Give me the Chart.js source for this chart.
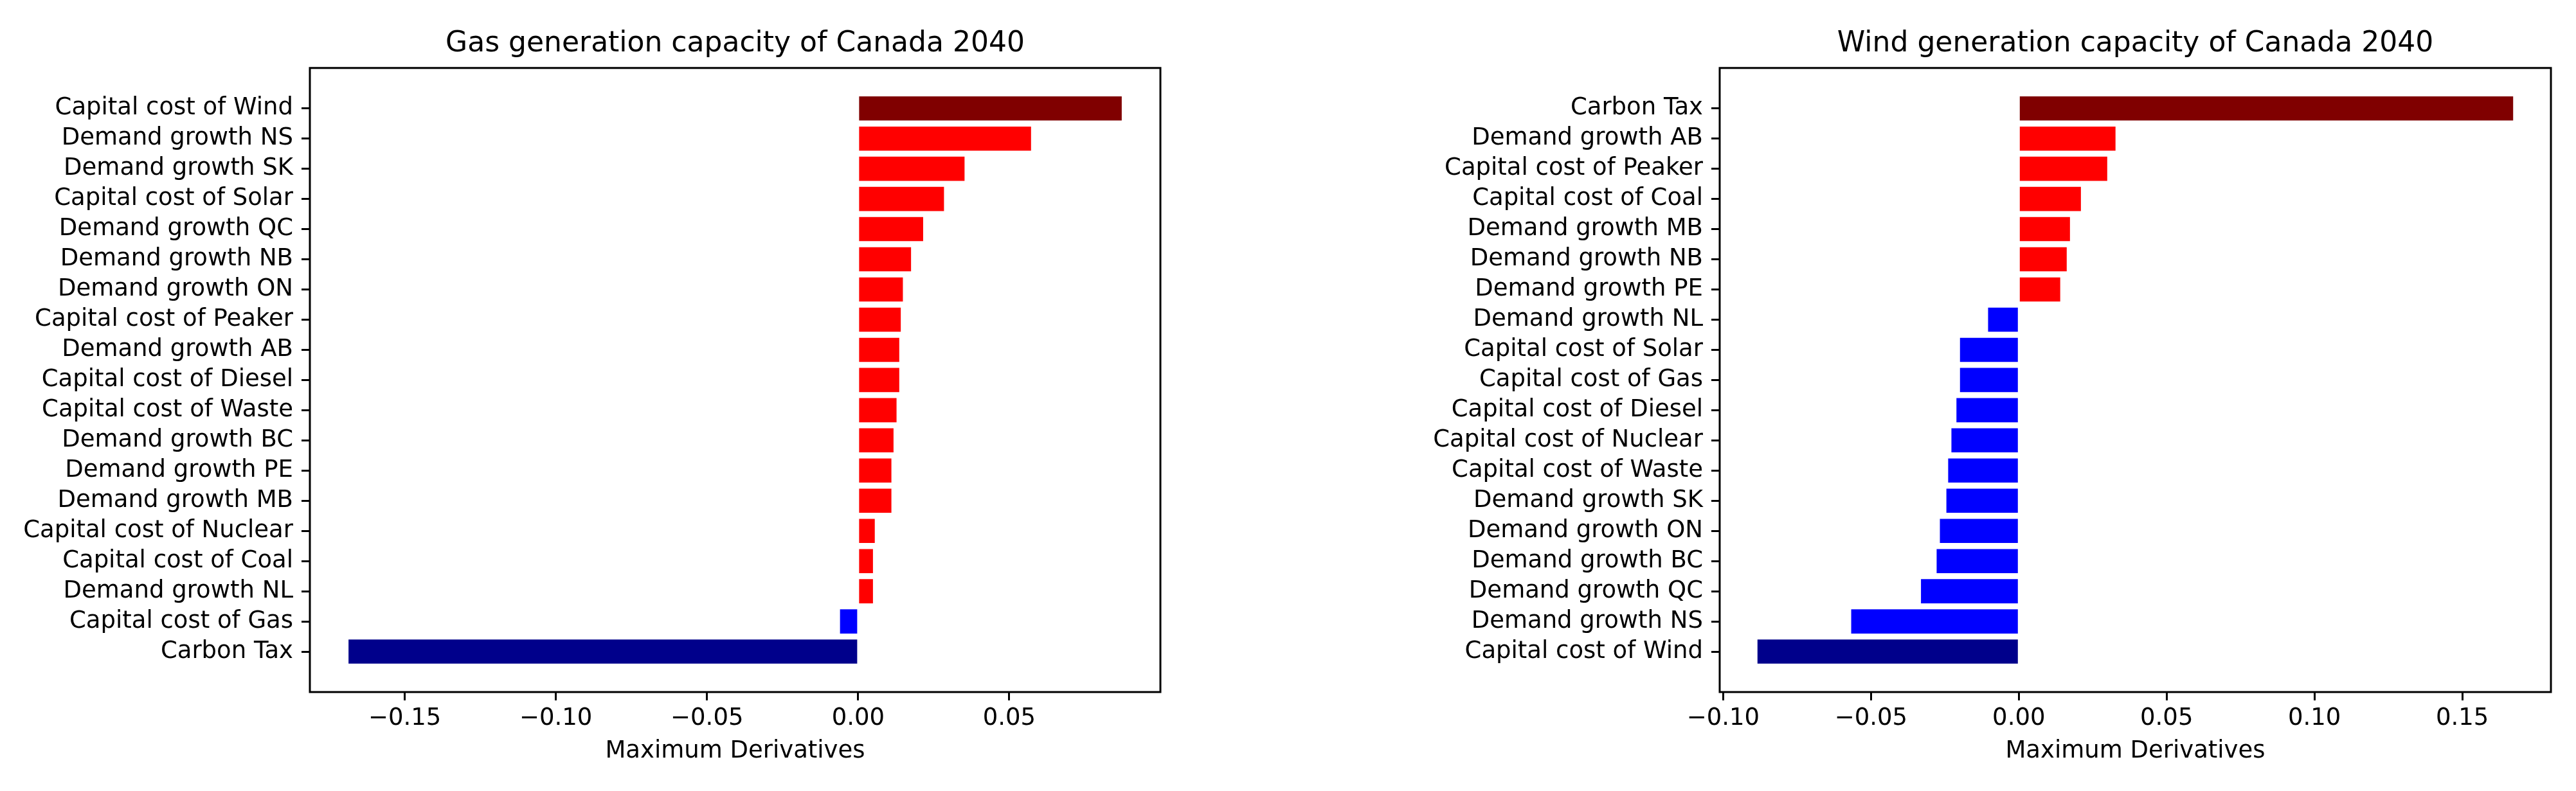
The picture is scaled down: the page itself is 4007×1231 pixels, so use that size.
<!DOCTYPE html>
<html>
<head>
<meta charset="utf-8">
<script src="https://cdn.jsdelivr.net/npm/chart.js@4.4.1/dist/chart.umd.min.js"></script>
<style>
    html, body { margin: 0; padding: 0; background: #fff; }
    .panel { position: absolute; top: 0; }
</style>
</head>
<body>
<div class="panel" style="left:0"><canvas id="gasChart" width="2000" height="1231"></canvas></div>
<div class="panel" style="left:2000px"><canvas id="windChart" width="2007" height="1231"></canvas></div>
<script>
// factors listed top to bottom as they appear
const gasFactors = ['Capital cost of Wind', 'Demand growth NS', 'Demand growth SK', 'Capital cost of Solar',
    'Demand growth QC', 'Demand growth NB', 'Demand growth ON', 'Capital cost of Peaker', 'Demand growth AB',
    'Capital cost of Diesel', 'Capital cost of Waste', 'Demand growth BC', 'Demand growth PE', 'Demand growth MB',
    'Capital cost of Nuclear', 'Capital cost of Coal', 'Demand growth NL', 'Capital cost of Gas', 'Carbon Tax'];
const gasValues = [0.0872, 0.0572, 0.0352, 0.0284, 0.0215, 0.0175, 0.0148, 0.0141, 0.0136,
    0.0136, 0.0127, 0.0117, 0.0110, 0.0110, 0.0055, 0.0049, 0.0049, -0.0060, -0.1686];
const gasTicks = [-0.15, -0.10, -0.05, 0.00, 0.05];

const windFactors = ['Carbon Tax', 'Demand growth AB', 'Capital cost of Peaker', 'Capital cost of Coal',
    'Demand growth MB', 'Demand growth NB', 'Demand growth PE', 'Demand growth NL', 'Capital cost of Solar',
    'Capital cost of Gas', 'Capital cost of Diesel', 'Capital cost of Nuclear', 'Capital cost of Waste',
    'Demand growth SK', 'Demand growth ON', 'Demand growth BC', 'Demand growth QC', 'Demand growth NS',
    'Capital cost of Wind'];
const windValues = [0.1672, 0.0327, 0.0299, 0.0210, 0.0173, 0.0162, 0.0140, -0.0104, -0.0199,
    -0.0199, -0.0211, -0.0228, -0.0239, -0.0245, -0.0267, -0.0278, -0.0331, -0.0567, -0.0884];
const windTicks = [-0.10, -0.05, 0.00, 0.05, 0.10, 0.15];

const FONT = 'DejaVu Sans';

const frame = {
    id: 'frame',
    afterDraw(chart) {
        const { ctx, chartArea: a } = chart;
        ctx.save();
        ctx.strokeStyle = '#000';
        ctx.lineWidth = 3;
        ctx.strokeRect(a.left, a.top, a.right - a.left, a.bottom - a.top);
        ctx.restore();
    },
};

const fmt = (v) => (v < 0 ? '\u2212' : '') + Math.abs(v).toFixed(2);

function barColors(values) {
    const hi = Math.max(...values);
    const lo = Math.min(...values);
    return values.map((v) => {
        if (v === hi) return '#800000';
        if (v === lo) return '#00008b';
        return v >= 0 ? '#ff0000' : '#0000ff';
    });
}

function makeChart(id, title, factors, values, ticks, yWidth, padRight) {
    // matplotlib-like 5% margins
    const lo = Math.min(...values, 0);
    const hi = Math.max(...values, 0);
    const mx = (hi - lo) * 0.05;
    const n = factors.length;
    const my = (n - 1 + 0.8) * 0.05;

    new Chart(document.getElementById(id), {
        type: 'bar',
        data: {
            datasets: [{
                data: values.map((v, i) => ({ x: v, y: i })),
                backgroundColor: barColors(values),
                borderWidth: 0,
                barPercentage: 0.8,
                categoryPercentage: 1,
            }],
        },
        options: {
            responsive: false,
            animation: false,
            devicePixelRatio: 1,
            indexAxis: 'y',
            layout: { padding: { left: 0, right: padRight, top: 0, bottom: 0 } },
            plugins: {
                legend: { display: false },
                tooltip: { enabled: false },
                title: {
                    display: true,
                    text: title,
                    fullSize: false,
                    color: '#000',
                    font: { family: FONT, size: 44, weight: 'normal' },
                    padding: { top: 42, bottom: 11 },
                },
            },
            scales: {
                x: {
                    type: 'linear',
                    position: 'bottom',
                    min: lo - mx,
                    max: hi + mx,
                    afterBuildTicks: (axis) => { axis.ticks = ticks.map((v) => ({ value: v })); },
                    afterFit: (axis) => { axis.height = 154; },
                    border: { display: false },
                    grid: { drawOnChartArea: false, drawTicks: true, tickLength: 13, color: '#000', lineWidth: 3 },
                    ticks: {
                        color: '#000',
                        padding: 6,
                        maxRotation: 0,
                        font: { family: FONT, size: 37 },
                        callback: (v) => fmt(v),
                    },
                    title: {
                        display: true,
                        text: 'Maximum Derivatives',
                        color: '#000',
                        font: { family: FONT, size: 37 },
                        padding: { top: 0, bottom: 39 },
                    },
                },
                y: {
                    type: 'linear',
                    reverse: true,
                    offset: false,
                    min: -0.4 - my,
                    max: n - 1 + 0.4 + my,
                    afterBuildTicks: (axis) => { axis.ticks = factors.map((_, i) => ({ value: i })); },
                    afterFit: (axis) => { axis.width = yWidth; },
                    border: { display: false },
                    grid: { offset: false, drawOnChartArea: false, drawTicks: true, tickLength: 13, color: '#000', lineWidth: 3 },
                    ticks: {
                        color: '#000',
                        padding: 13,
                        font: { family: FONT, size: 37 },
                        callback: (v) => factors[v] ?? '',
                    },
                },
            },
        },
        plugins: [frame],
    });
}

makeChart('gasChart', 'Gas generation capacity of Canada 2040', gasFactors, gasValues, gasTicks, 482, 195);
makeChart('windChart', 'Wind generation capacity of Canada 2040', windFactors, windValues, windTicks, 675, 39);
</script>
</body>
</html>
